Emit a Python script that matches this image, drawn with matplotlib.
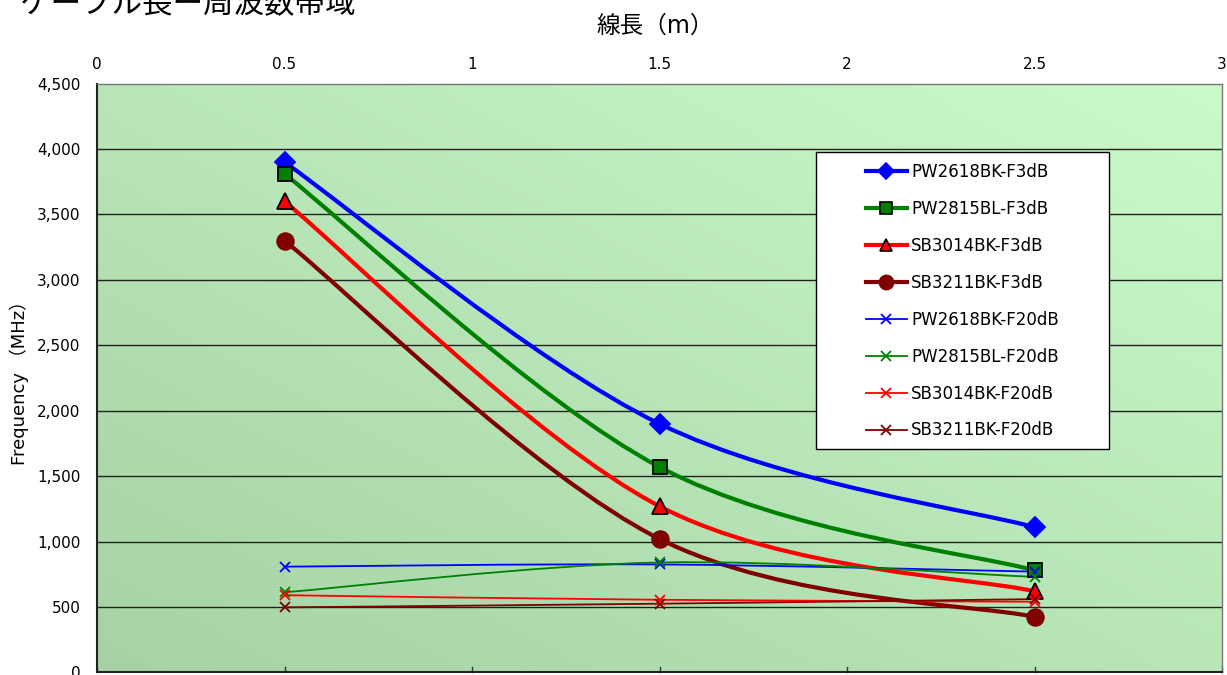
import numpy as np
import matplotlib.pyplot as plt
from matplotlib.path import Path
from matplotlib.patches import PathPatch, Rectangle
from matplotlib.lines import Line2D

plt.rcParams['font.family'] = ['DejaVu Sans', 'Noto Sans CJK JP']

# cable length (m)
lengths = [0.5, 1.5, 2.5]

# -3dB bandwidth (MHz)
pw2618_3db = [3900, 1900, 1110]
pw2815_3db = [3810, 1570, 780]
sb3014_3db = [3600, 1270, 620]
sb3211_3db = [3300, 1020, 425]

# -20dB bandwidth (MHz)
pw2618_20db = [808, 825, 770]
pw2815_20db = [612, 840, 730]
sb3014_20db = [590, 555, 540]
sb3211_20db = [497, 525, 560]

x_ticks = [0, 0.5, 1, 1.5, 2, 2.5, 3]
x_tick_labels = ['0', '0.5', '1', '1.5', '2', '2.5', '3']
y_ticks = list(range(0, 4501, 500))


def smooth_path(xs, ys):
    # Excel style smoothed line: cubic Bezier through every point
    pts = np.column_stack([xs, ys]).astype(float)
    n = len(pts)
    verts = [pts[0]]
    codes = [Path.MOVETO]
    for i in range(n - 1):
        p0 = pts[i - 1] if i > 0 else pts[i]
        p1 = pts[i]
        p2 = pts[i + 1]
        p3 = pts[i + 2] if i + 2 < n else pts[i + 1]
        c1 = p1 + (p2 - p0) / 6.0
        c2 = p2 - (p3 - p1) / 6.0
        verts += [c1, c2, p2]
        codes += [Path.CURVE4] * 3
    return Path(verts, codes)


W, H = 1227, 675
fig = plt.figure(figsize=(W / 100, H / 100), dpi=100)
ax_l, ax_r, ax_t, ax_b = 97, 1222, 83.6, 672.4
ax = fig.add_axes([ax_l / W, (H - ax_b) / H, (ax_r - ax_l) / W, (ax_b - ax_t) / H])


def px_to_axes(px, py):
    return (px - ax_l) / (ax_r - ax_l), (ax_b - py) / (ax_b - ax_t)


# diagonal green gradient background
gx, gy = np.meshgrid(np.linspace(0, 1, 200), np.linspace(0, 1, 200))
t = (gx + gy) / 2
c_lo = np.array([0xa6, 0xd2, 0xa6]) / 255
c_hi = np.array([0xca, 0xfa, 0xca]) / 255
grad = c_lo[None, None, :] * (1 - t[..., None]) + c_hi[None, None, :] * t[..., None]
ax.imshow(grad, extent=[0, 1, 0, 1], transform=ax.transAxes, origin='lower',
          aspect='auto', zorder=0)

ax.set_xlim(0, 3)
ax.set_ylim(0, 4500)

for yv in y_ticks[1:-1]:
    ax.axhline(yv, color='#222222', lw=1.0, zorder=1)

series = [
    (pw2618_3db, '#0000ff', 'D', 10, 'none', 'PW2618BK-F3dB', 3),
    (pw2815_3db, '#008000', 's', 10, 'black', 'PW2815BL-F3dB', 3),
    (sb3014_3db, '#ff0000', '^', 11, 'black', 'SB3014BK-F3dB', 3),
    (sb3211_3db, '#800000', 'o', 12, 'none', 'SB3211BK-F3dB', 3),
    (pw2618_20db, '#0000ff', 'x', 7, None, 'PW2618BK-F20dB', 1.3),
    (pw2815_20db, '#008000', 'x', 7, None, 'PW2815BL-F20dB', 1.3),
    (sb3014_20db, '#ff0000', 'x', 7, None, 'SB3014BK-F20dB', 1.3),
    (sb3211_20db, '#800000', 'x', 7, None, 'SB3211BK-F20dB', 1.3),
]

handles = []
for vals, col, mk, ms, edge, label, lw in series:
    patch = PathPatch(smooth_path(lengths, vals), facecolor='none',
                      edgecolor=col, lw=lw, zorder=3, capstyle='round')
    ax.add_patch(patch)
    if edge is None:
        ax.plot(lengths, vals, ls='none', marker=mk, ms=ms, color=col,
                mew=1.3, zorder=4)
        h = Line2D([], [], color=col, lw=lw, marker=mk, ms=ms, mew=1.3)
    else:
        ec = col if edge == 'none' else edge
        ax.plot(lengths, vals, ls='none', marker=mk, ms=ms, color=col,
                mec=ec, mew=1.3, zorder=4)
        h = Line2D([], [], color=col, lw=lw, marker=mk, ms=ms * 0.85,
                   mec=ec, mew=1.2)
    handles.append((h, label))

ax.xaxis.tick_top()
ax.set_xticks(x_ticks)
ax.set_xticklabels(x_tick_labels, fontsize=11)
ax.tick_params(axis='x', length=0, pad=8)
ax.set_yticks(y_ticks)
ax.set_yticklabels([f'{v:,}' for v in y_ticks], fontsize=11)
ax.tick_params(axis='y', length=0, pad=12)

# small inward tick marks on the bottom edge
for xv in x_ticks:
    ax.plot([xv, xv], [0, 45], color='#333333', lw=1, zorder=2, clip_on=False)

for side in ['left', 'bottom']:
    ax.spines[side].set_color('#222222')
    ax.spines[side].set_linewidth(1.5)
for side in ['top', 'right']:
    ax.spines[side].set_color('#777777')
    ax.spines[side].set_linewidth(1.0)

ax.set_ylabel('Frequency （MHz）', fontsize=13, labelpad=6)
fig.text(655 / W, 1 - 26 / H, '線長（m）', fontsize=17, ha='center', va='center')
fig.text(20 / W, 1 - 5 / H, 'ケーブル長ー周波数帯域', fontsize=22, ha='left', va='center')

# legend box drawn separately so the side padding can be wider than the top/bottom
bx0, by0 = px_to_axes(816, 449)
bx1, by1 = px_to_axes(1109, 152)
ax.add_patch(Rectangle((bx0, by0), bx1 - bx0, by1 - by0, transform=ax.transAxes,
                       facecolor='white', edgecolor='black', lw=1.0, zorder=5))

lx, ly = px_to_axes(866, 163)
leg = ax.legend([h for h, _ in handles], [l for _, l in handles],
                loc='upper left', bbox_to_anchor=(lx, ly),
                fontsize=12, frameon=False, handlelength=2.45,
                labelspacing=1.135, borderpad=0, handletextpad=0.25,
                borderaxespad=0)
leg.set_zorder(6)

fig.savefig('out.png', dpi=100)
